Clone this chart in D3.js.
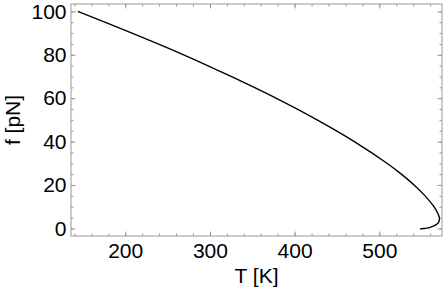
<!DOCTYPE html>
<meta charset="utf-8">
<title>f vs T</title>
<style>
    body { margin: 0; background: #fff; }
    svg { display: block; font-family: "Liberation Sans", Arial, Helvetica, sans-serif; }
</style>
<body>
<script src="https://cdn.jsdelivr.net/npm/d3@7"></script>
<script>

    // curve, parametrised by force (goes round the nose near 571 K)
    var force = [100, 90, 80, 70, 60, 50, 40, 30, 25, 20, 15, 10, 7, 5.5, 4.6, 3.5, 2.5, 1.5, 0.8, 0.5, 0.15, -0.05, -0.2];
    var temperature = [144, 208, 269, 325, 378, 426.5, 470.5, 509, 526, 541, 554, 564.5, 569, 570.5, 571, 570.7, 569.4, 566, 562.2, 560, 556, 552, 548];

    var xMajor = [200, 300, 400, 500],
        yMajor = [0, 20, 40, 60, 80, 100];

    var width = 447,
        height = 292,
        plotL = 71, plotR = 442, plotT = 4, plotB = 236;

    var x = d3.scaleLinear().domain([136, 574]).range([plotL, plotR]);
    var y = d3.scaleLinear().domain([-3.5, 103.4]).range([plotB, plotT]);

    var xMinor = d3.range(140, 574, 20),
        yMinor = d3.range(0, 103, 5);

    var svg = d3.select("body").append("svg")
        .attr("width", width)
        .attr("height", height);

    var tickColor = "#999",
        fontSize = 21;

    function addAxis(axis, tx, ty, labels) {
        var g = svg.append("g")
            .attr("transform", "translate(" + tx + "," + ty + ")")
            .call(axis);
        g.select(".domain").remove();
        g.selectAll("line").attr("stroke", tickColor);
        g.selectAll("text")
            .attr("font-size", fontSize)
            .attr("font-family", null)
            .attr("fill", "#000");
        if (!labels) g.selectAll("text").remove();
        return g;
    }

    // minor ticks, all four sides
    addAxis(d3.axisBottom(x).tickValues(xMinor).tickSize(-2.5).tickFormat(""), 0, plotB, false);
    addAxis(d3.axisTop(x).tickValues(xMinor).tickSize(-2.5).tickFormat(""), 0, plotT, false);
    addAxis(d3.axisLeft(y).tickValues(yMinor).tickSize(-2.5).tickFormat(""), plotL, 0, false);
    addAxis(d3.axisRight(y).tickValues(yMinor).tickSize(-2.5).tickFormat(""), plotR, 0, false);

    // major ticks
    var xb = addAxis(d3.axisBottom(x).tickValues(xMajor).tickSize(-4.5), 0, plotB, true);
    xb.selectAll("text").attr("y", 7).attr("dy", "0.71em");
    addAxis(d3.axisTop(x).tickValues(xMajor).tickSize(-4.5), 0, plotT, false);
    var yl = addAxis(d3.axisLeft(y).tickValues(yMajor).tickSize(-4.5), plotL, 0, true);
    yl.selectAll("text").attr("x", -4.5);
    addAxis(d3.axisRight(y).tickValues(yMajor).tickSize(-4.5), plotR, 0, false);

    // frame
    svg.append("rect")
        .attr("x", plotL).attr("y", plotT)
        .attr("width", plotR - plotL).attr("height", plotB - plotT)
        .attr("fill", "none")
        .attr("stroke", tickColor)
        .attr("stroke-width", 1);

    var pts = force.map(function (f, i) { return [temperature[i], f]; });

    var line = d3.line()
        .x(function (d) { return x(d[0]); })
        .y(function (d) { return y(d[1]); })
        .curve(d3.curveCatmullRom.alpha(0.5));

    svg.append("path")
        .datum(pts)
        .attr("d", line)
        .attr("fill", "none")
        .attr("stroke", "#000")
        .attr("stroke-width", 1.4);

    // axis titles
    svg.append("text")
        .attr("x", (plotL + plotR) / 2)
        .attr("y", 283)
        .attr("text-anchor", "middle")
        .attr("font-size", fontSize)
        .text("T [K]");

    svg.append("text")
        .attr("transform", "translate(20," + ((plotT + plotB) / 2) + ") rotate(-90)")
        .attr("text-anchor", "middle")
        .attr("font-size", fontSize)
        .text("f [pN]");

</script>
</body>
